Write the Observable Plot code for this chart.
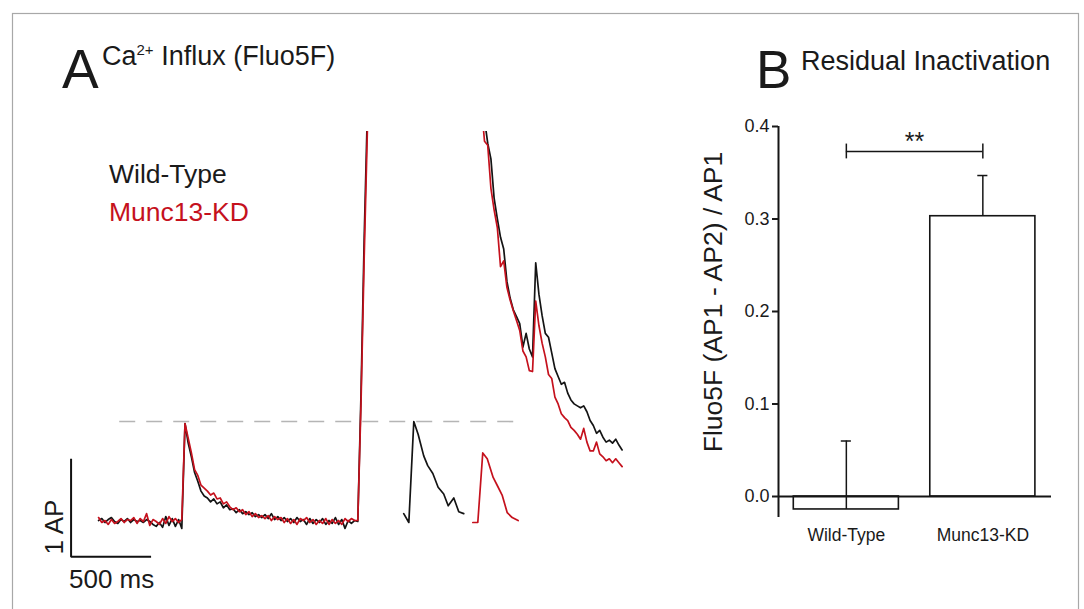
<!DOCTYPE html>
<html>
<head>
<meta charset="utf-8">
<script src="https://cdn.jsdelivr.net/npm/d3@7"></script>
<script src="https://cdn.jsdelivr.net/npm/@observablehq/plot@0.6"></script>
<style>
  html, body { margin: 0; padding: 0; background: #fff; }
  #page { position: relative; width: 1084px; height: 609px; overflow: hidden; background: #fff;
          font-family: "Liberation Sans", Arial, sans-serif; }
  #panelA { position: absolute; left: 0; top: 0; }
  #panelB { position: absolute; left: 680px; top: 100px; }
  #overlay { position: absolute; left: 0; top: 0; pointer-events: none; }
  #overlay text { font-family: "Liberation Sans", Arial, sans-serif; fill: #1a1a1a; }
</style>
</head>
<body>
<div id="page">
  <div id="panelA"></div>
  <div id="panelB"></div>
  <svg id="overlay" width="1084" height="609">
    <rect x="12.5" y="13.5" width="1066" height="620" fill="none" stroke="#a8a8a8" stroke-width="1.2"></rect>
    <text x="62" y="88" font-size="55">A</text>
    <text x="102" y="65" font-size="27">Ca<tspan font-size="15" dy="-10">2+</tspan><tspan dy="10"> Influx (Fluo5F)</tspan></text>
    <text x="109" y="183" font-size="26.5">Wild-Type</text>
    <text x="109" y="221" font-size="26.5" style="fill:#c5111d">Munc13-KD</text>
    <text x="69" y="588" font-size="26">500 ms</text>
    <text transform="translate(62.5,527) rotate(-90)" text-anchor="middle" font-size="26">1 AP</text>
    <text x="756" y="88" font-size="53">B</text>
    <text x="801" y="70" font-size="27">Residual Inactivation</text>
    <text transform="translate(721.5,302) rotate(-90)" text-anchor="middle" font-size="26.5">Fluo5F (AP1 - AP2) / AP1</text>
  </svg>
</div>
<script>
// ---------- Panel A data (time in ms relative to AP1, amplitude in AP units) ----------
const BLACK = "#141414";
const RED = "#c5111d";

// Wild-Type trace, segment 1: baseline, AP1, decay, start of train (sampled every 20 ms)
const wtSeg1T0 = -540, seg1Dt = 20;
const wtSeg1 = [0.01, 0.03, -0.01, 0.02, 0.04, 0.00, -0.02, 0.02, 0.00, 0.03, -0.01, 0.02, 0.00, 0.01, -0.01, 0.02, 0.00, -0.03, -0.05, -0.01, -0.06, 0.05, -0.04, 0.03, -0.05, 0.02, -0.07,
  1.00,
  0.80, 0.66, 0.50, 0.41, 0.31, 0.26, 0.24, 0.20, 0.23, 0.18, 0.20, 0.14, 0.17, 0.12, 0.13, 0.09, 0.12, 0.08, 0.10, 0.07, 0.09, 0.05, 0.07, 0.04, 0.07, 0.03, 0.08, 0.02, 0.05, 0.01, 0.04, 0.00, 0.03, -0.01, 0.04, 0.00, 0.02, -0.03, 0.03, -0.02, 0.02, -0.01, 0.03, -0.03, 0.01, -0.02, 0.04, -0.03, 0.02, -0.07, 0.01, -0.02, 0.01, 0.00,
  1.3, 2.9, 4.2, 5.5];
// Munc13-KD trace, segment 1
const kdSeg1T0 = -540;
const kdSeg1 = [0.04, -0.01, 0.01, -0.03, 0.02, -0.02, 0.00, 0.03, -0.01, 0.02, 0.01, 0.04, -0.02, 0.03, 0.00, 0.08, -0.04, 0.02, 0.00, -0.03, 0.03, -0.02, 0.05, 0.00, 0.03, -0.01, 0.02,
  1.00,
  0.85, 0.70, 0.53, 0.47, 0.37, 0.34, 0.31, 0.27, 0.29, 0.23, 0.24, 0.18, 0.20, 0.15, 0.12, 0.14, 0.10, 0.12, 0.07, 0.10, 0.05, 0.08, 0.04, 0.06, 0.03, 0.06, 0.01, 0.05, 0.02, 0.04, -0.01, 0.03, -0.02, 0.02, -0.03, 0.03, 0.01, 0.04, -0.01, 0.02, -0.03, 0.01, -0.02, 0.03, -0.03, 0.02, -0.02, 0.01, -0.03, 0.03, 0.00, 0.03, 0.01, 0.01,
  1.2, 2.7, 4.0, 5.3];

// Segment 2: end of train decay, AP2, decay (sampled every 20 ms)
const seg2T0 = 1852, seg2Dt = 20;
const wtSeg2 = [4.3, 4.1, 3.86, 3.70, 3.30, 3.09, 2.90, 2.78, 2.45, 2.28, 2.16, 2.09, 2.02, 1.78, 1.92, 1.76, 1.68, 2.64, 2.32, 2.10, 1.92, 1.88, 1.72, 1.56, 1.48, 1.40, 1.42, 1.31, 1.24, 1.20, 1.18, 1.16, 1.18, 1.12, 1.03, 0.98, 0.90, 0.93, 0.86, 0.81, 0.83, 0.80, 0.84, 0.78, 0.73];
const kdSeg2 = [4.25, 3.88, 3.84, 3.40, 3.18, 3.00, 2.60, 2.66, 2.39, 2.26, 2.15, 2.05, 1.95, 1.74, 1.68, 1.54, 1.53, 2.25, 2.00, 1.82, 1.68, 1.50, 1.46, 1.27, 1.20, 1.10, 1.06, 1.03, 0.96, 0.93, 0.89, 0.84, 0.95, 0.81, 0.72, 0.72, 0.81, 0.69, 0.66, 0.62, 0.64, 0.60, 0.64, 0.60, 0.56];

// Isolated AP2 insets
const wtInsetT = [1367, 1399, 1430, 1457, 1492, 1517, 1549, 1582, 1617, 1645, 1680, 1711, 1742];
const wtInsetV = [0.08, -0.01, 1.02, 0.89, 0.67, 0.57, 0.49, 0.35, 0.28, 0.16, 0.24, 0.10, 0.08];
const kdInsetT = [1799, 1830, 1861, 1889, 1926, 1951, 1982, 2014, 2045, 2082];
const kdInsetV = [-0.01, -0.01, 0.70, 0.64, 0.45, 0.37, 0.27, 0.09, 0.04, 0.01];

// AP1 reference level (dashed)
const refLevel = [{v: 1.02, t1: -408, t2: 2058}];
// Scale bar: 500 ms, 1 AP
const scaleBar = {t: -712, v: -0.36, dt: 500, dv: 1};

// ---------- Panel B data ----------
const groups = ["Wild-Type", "Munc13-KD"];
const means = [-0.014, 0.303];
const sems = [0.074, 0.044];
const yTicks = [0, 0.1, 0.2, 0.3, 0.4];
const signif = {from: 0, to: 1, y: 0.373, tick: 0.008, label: "**"};

// ---------- build ----------
const seg = (t0, dt, vals) => vals.map((v, k) => ({t: t0 + k * dt, v}));
const pairs = (ts, vs) => ts.map((t, i) => ({t, v: vs[i]}));
const scalePts = [
  {t: scaleBar.t, v: scaleBar.v + scaleBar.dv},
  {t: scaleBar.t, v: scaleBar.v},
  {t: scaleBar.t + scaleBar.dt, v: scaleBar.v}
];

const lineOpts = (stroke) => ({x: "t", y: "v", stroke, strokeWidth: 1.7, clip: true, curve: "linear"});

const plotA = Plot.plot({
  width: 660, height: 609,
  marginLeft: 0, marginRight: 0, marginTop: 131, marginBottom: 0,
  x: {domain: [-184.5 / 0.16, (660 - 184.5) / 0.16], axis: null},
  y: {domain: [(521 - 609) / 98, (521 - 131) / 98], axis: null},
  style: {background: "transparent", overflow: "visible"},
  marks: [
    Plot.ruleY(refLevel, {y: "v", x1: "t1", x2: "t2", stroke: "#b5b5b5", strokeWidth: 1.6, strokeDasharray: "16 11"}),
    Plot.line(seg(wtSeg1T0, seg1Dt, wtSeg1), lineOpts(BLACK)),
    Plot.line(seg(seg2T0, seg2Dt, wtSeg2), lineOpts(BLACK)),
    Plot.line(seg(kdSeg1T0, seg1Dt, kdSeg1), lineOpts(RED)),
    Plot.line(seg(seg2T0, seg2Dt, kdSeg2), lineOpts(RED)),
    Plot.line(pairs(wtInsetT, wtInsetV), lineOpts(BLACK)),
    Plot.line(pairs(kdInsetT, kdInsetV), lineOpts(RED)),
    Plot.line(scalePts, {x: "t", y: "v", stroke: "#111", strokeWidth: 2, strokeLinejoin: "miter", strokeLinecap: "butt"})
  ]
});
document.getElementById("panelA").appendChild(plotA);

const bars = groups.map((g, i) => ({i, g, mean: means[i], upper: means[i] + sems[i]}));
const barHalf = 0.385, capHalf = 0.037;

const plotB = Plot.plot({
  width: 404, height: 460,
  marginLeft: 98, marginRight: 33, marginTop: 26, marginBottom: 43,
  x: {domain: [-0.497, 1.503]},
  y: {domain: [-0.0227, 0.4]},
  style: {background: "transparent", fontFamily: "Liberation Sans, Arial, sans-serif", color: "#1a1a1a", overflow: "visible"},
  marks: [
    Plot.rect(bars, {x1: d => d.i - barHalf, x2: d => d.i + barHalf, y1: 0, y2: "mean", fill: "white", stroke: "#151515", strokeWidth: 1.6}),
    Plot.ruleX(bars, {x: "i", y1: "mean", y2: "upper", stroke: "#151515", strokeWidth: 1.5}),
    Plot.ruleY(bars, {y: "upper", x1: d => d.i - capHalf, x2: d => d.i + capHalf, stroke: "#151515", strokeWidth: 1.5}),
    Plot.ruleY([signif], {y: "y", x1: "from", x2: "to", stroke: "#151515", strokeWidth: 1.5}),
    Plot.ruleX([signif.from, signif.to], {x: d => d, y1: signif.y - signif.tick, y2: signif.y + signif.tick, stroke: "#151515", strokeWidth: 1.5}),
    Plot.text([signif], {x: d => (d.from + d.to) / 2, y: "y", text: "label", fontSize: 25, lineAnchor: "bottom", dy: -1, fill: "#1a1a1a"}),
    Plot.ruleY([0], {stroke: "#151515", strokeWidth: 2}),
    Plot.ruleX([-0.497], {stroke: "#151515", strokeWidth: 2}),
    Plot.axisY({ticks: yTicks, tickFormat: d3.format(".1f"), tickSize: 6, tickPadding: 3, fontSize: 18, strokeWidth: 2, label: null}),
    Plot.axisX({ticks: [0, 1], tickFormat: i => groups[i], tickSize: 0, tickPadding: 11, fontSize: 17.5, label: null})
  ]
});
document.getElementById("panelB").appendChild(plotB);
</script>
</body>
</html>
